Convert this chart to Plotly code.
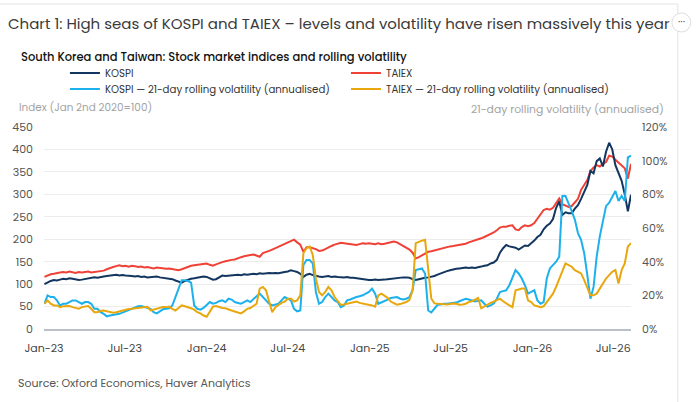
import pandas as pd
import plotly.graph_objects as go

dates = pd.date_range("2023-01-02", periods=189, freq="7D")

kospi = [
    100, 104, 107, 109, 108, 110, 112, 111, 113, 112,
    110, 109, 110, 111, 112, 114, 115, 114, 116, 117,
    118, 119, 120, 121, 119, 120, 119, 119, 118, 117,
    118, 116, 117, 115, 116, 116, 117, 115, 114, 114,
    113, 111, 108, 105, 103, 107, 110, 112, 113, 114,
    116, 117, 116, 113, 110, 111, 116, 119, 118, 119,
    120, 120, 121, 120, 122, 121, 122, 123, 122, 124,
    123, 124, 125, 124, 125, 124, 126, 127, 128, 131,
    129, 127, 123, 116, 121, 123, 120, 118, 117, 116,
    117, 118, 116, 117, 116, 115, 115, 116, 114, 114,
    113, 111, 110, 110, 109, 109, 110, 109, 109, 110,
    111, 112, 113, 113, 114, 115, 115, 114, 111, 109,
    111, 113, 114, 115, 116, 118, 121, 124, 127, 129,
    131, 133, 134, 135, 136, 137, 136, 137, 136, 137,
    139, 141, 142, 146, 148, 154, 170, 180, 187, 184,
    183, 181, 177, 182, 186, 185, 190, 197, 205, 210,
    222, 230, 235, 245, 270, 284, 254, 260, 258, 258,
    268, 276, 290, 305, 321, 352, 347, 374, 380, 362,
    395, 415, 400, 365, 348, 330, 300, 262, 299,
]

taiex = [
    116, 119, 122, 123, 125, 126, 127, 126, 128, 127,
    125, 127, 126, 127, 128, 126, 127, 128, 129, 130,
    133, 136, 138, 140, 142, 140, 141, 139, 141, 140,
    138, 139, 137, 138, 136, 135, 137, 136, 135, 134,
    135, 134, 133, 131, 133, 136, 139, 141, 142, 143,
    144, 145, 146, 143, 141, 144, 147, 149, 151, 153,
    154, 155, 158, 160, 162, 164, 165, 166, 163, 161,
    169, 171, 174, 177, 180, 183, 187, 189, 192, 196,
    199, 193, 188, 172, 182, 182, 180, 178, 174, 175,
    178, 182, 185, 188, 190, 192, 191, 190, 189, 188,
    187, 189, 191, 190, 191, 190, 189, 191, 189, 190,
    192, 193, 195, 193, 189, 185, 181, 177, 170, 157,
    160, 164, 169, 172, 173, 175, 176, 178, 180, 182,
    184, 185, 186, 187, 188, 190, 193, 195, 197, 200,
    202, 205, 208, 211, 215, 220, 226, 228, 228, 230,
    231, 222, 220, 227, 231, 229, 231, 236, 246, 255,
    265, 268, 266, 270, 282, 291, 278, 275, 272, 274,
    283, 290, 310, 322, 332, 352, 360, 365, 362, 368,
    372, 386, 384, 377, 371, 366, 358, 335, 368,
]

kospi_vol = [
    15, 20, 19, 19, 17, 14, 15, 15, 16, 17,
    17, 16, 15, 16, 16, 15, 12, 12, 10, 9,
    7.5, 8, 8.3, 8.5, 9, 9.7, 10.5, 11.3, 12, 12.8,
    13.5, 13.6, 13, 12.5, 12, 10, 9.3, 10.5, 11.7, 12,
    12.3, 14, 19, 23, 29, 29, 28.5, 27.5, 14, 12,
    11.5, 12.5, 14, 16, 15, 15.5, 16.5, 17, 16, 18,
    17.5, 16, 15.5, 15, 16, 17, 16, 18, 19.5, 21,
    19, 17, 15, 14, 14.5, 15, 17, 19, 18, 17,
    12, 10.5, 11, 38, 41, 41, 39, 22, 15, 16,
    19, 21, 19, 17, 16, 13, 14, 17, 17.5, 18.5,
    19, 19.5, 20, 21, 22, 24, 21, 15, 16, 17,
    17.5, 18.4, 18.5, 19, 18, 17.6, 18, 19, 23, 35,
    35.5, 36, 33, 11, 9.8, 12, 14.4, 14.5, 15, 15,
    15.2, 15.4, 15.7, 16.5, 17.3, 18, 17.5, 16.8, 16.3, 16.7,
    17, 15, 13.3, 14, 15.2, 18, 22, 22.5, 23, 26,
    31, 35, 33, 30, 26, 21, 22, 23, 17, 15,
    16, 30, 36, 38, 40, 43, 79, 79, 75, 70,
    65, 57, 53, 45, 32, 18, 25, 43, 55, 64,
    73, 75, 79, 82, 76, 79, 76, 102, 103,
]

taiex_vol = [
    15, 17, 15, 14, 14, 13, 13.5, 13.5, 13.6, 13,
    12.5, 12, 13, 13.5, 13.6, 12, 10, 10, 10.8, 11,
    10.5, 10, 9.7, 10, 10.5, 11, 11.3, 11.9, 12, 12.3,
    12.5, 13, 13.2, 13.2, 11, 11.5, 12.3, 12.8, 13, 13,
    13.3, 12, 11, 12.5, 14, 13.5, 13, 12.3, 11.5, 10,
    9.3, 8, 7.3, 10, 13.3, 13.7, 13, 12.5, 12.3, 11.5,
    11, 10.4, 10, 9.3, 10.5, 12, 12.5, 14, 15, 24,
    25, 23, 17, 10, 13, 14.5, 15.5, 16.3, 18, 18,
    16.3, 17, 20, 45, 48, 49, 44, 30, 22, 20,
    22, 25, 23, 19, 17, 14.4, 14.5, 15, 15.5, 16,
    16.3, 15.5, 15.2, 14.8, 14.4, 14, 13.3, 20, 21, 20,
    18.5, 16.3, 15.5, 14.4, 14.8, 15.2, 16, 17.3, 23, 51,
    52, 52.5, 53, 35, 18, 15.2, 15, 14.7, 14.4, 14.5,
    14.8, 15.2, 15, 14.4, 14.6, 15, 16, 16.5, 17.5, 18.4,
    12.3, 13.5, 14.4, 15.5, 16.3, 17, 18, 16.5, 15, 14,
    13, 23, 23.5, 24, 24, 17, 16, 14, 13.5, 13,
    13.5, 16, 18, 21, 25, 30, 35, 39, 38, 37,
    35, 34, 33, 29, 25, 20, 20, 21, 24, 27,
    30, 32, 34, 35, 27, 35, 39, 49, 51,
]

x_ticks = ["2023-01-01", "2023-07-01", "2024-01-01", "2024-07-01",
           "2025-01-01", "2025-07-01", "2026-01-01", "2026-07-01"]

# ---- style ----
NAVY = "#12365f"
RED = "#ef4136"
LBLUE = "#1cb1ec"
ORANGE = "#e8a70c"
FONT = "Poppins, 'Open Sans', sans-serif"

W, H = 696, 402
L, R, T, B = 42, 65, 127, 73
pw, ph = W - L - R, H - T - B


def px(x):
    return (x - L) / pw


def py(y):
    return (H - B - y) / ph


fig = go.Figure()
fig.add_trace(go.Scatter(x=dates, y=taiex, name="TAIEX", legendrank=2,
                         legend="legend", mode="lines",
                         line=dict(color=RED, width=2)))
fig.add_trace(go.Scatter(x=dates, y=kospi, name="KOSPI", legendrank=1,
                         legend="legend", mode="lines",
                         line=dict(color=NAVY, width=2)))
fig.add_trace(go.Scatter(x=dates, y=kospi_vol, yaxis="y2", legendrank=3,
                         legend="legend2",
                         name="KOSPI \u2014 21-day rolling volatility (annualised)",
                         mode="lines", line=dict(color=LBLUE, width=2)))
fig.add_trace(go.Scatter(x=dates, y=taiex_vol, yaxis="y2", legendrank=4,
                         legend="legend2",
                         name="TAIEX \u2014 21-day rolling volatility (annualised)",
                         mode="lines", line=dict(color=ORANGE, width=2)))

legend_style = dict(orientation="h", xanchor="left", yanchor="middle",
                    entrywidth=236, entrywidthmode="pixels",
                    font=dict(size=10.2, color="#333"),
                    bgcolor="rgba(0,0,0,0)", itemwidth=30)

fig.update_layout(
    width=W, height=H,
    margin=dict(l=L, r=R, t=T, b=B),
    paper_bgcolor="white", plot_bgcolor="white",
    font=dict(family=FONT, size=11, color="#444"),
    title=dict(text="Chart 1: High seas of KOSPI and TAIEX \u2013 levels and volatility have risen massively this year",
               x=8 / W, xanchor="left", xref="container",
               y=1 - 24 / H, yanchor="middle", yref="container",
               font=dict(size=15, color="#3a3a3a")),
    xaxis=dict(type="date", range=["2023-01-01", "2026-08-10"],
               tickvals=x_ticks, tickformat="%b-%y",
               showgrid=False, showline=True, linecolor="#b9c0c8", linewidth=1.5,
               ticks="", tickfont=dict(size=11, color="#444"),
               ticklabelstandoff=8),
    yaxis=dict(range=[0, 450], dtick=50, showgrid=True, gridcolor="#ececec",
               gridwidth=1, zeroline=False, ticks="",
               tickfont=dict(size=11, color="#555"), ticklabelstandoff=10),
    yaxis2=dict(range=[0, 120], dtick=20, overlaying="y", side="right",
                showgrid=False, zeroline=False, ticksuffix="%", ticks="",
                tickfont=dict(size=11, color="#555"), ticklabelstandoff=10),
    legend=dict(legend_style, x=px(63), y=py(73)),
    legend2=dict(legend_style, x=px(63), y=py(89)),
    showlegend=True,
)

fig.add_annotation(text="South Korea and Taiwan: Stock market indices and rolling volatility",
                   xref="paper", yref="paper", x=px(17), y=py(57),
                   xanchor="left", yanchor="middle", showarrow=False,
                   font=dict(size=11.5, color="#111", weight=500))
fig.add_annotation(text="Index (Jan 2nd 2020=100)",
                   xref="paper", yref="paper", x=px(15), y=py(108),
                   xanchor="left", yanchor="middle", showarrow=False,
                   font=dict(size=10.4, color="#a3a3a3"))
fig.add_annotation(text="21-day rolling volatility (annualised)",
                   xref="paper", yref="paper", x=px(666), y=py(110),
                   xanchor="right", yanchor="middle", showarrow=False,
                   font=dict(size=10.8, color="#a3a3a3"))
fig.add_annotation(text="Source: Oxford Economics, Haver Analytics",
                   xref="paper", yref="paper", x=px(14), y=py(383),
                   xanchor="left", yanchor="middle", showarrow=False,
                   font=dict(size=11, color="#555"))

# card frame and menu button
fig.add_shape(type="rect", xref="paper", yref="paper",
              x0=px(-20), x1=px(678), y0=py(430), y1=py(4),
              line=dict(color="#e3e3e3", width=1), fillcolor="rgba(0,0,0,0)",
              layer="below")
fig.add_shape(type="circle", xref="paper", yref="paper",
              x0=px(672), x1=px(691), y0=py(32), y1=py(13),
              line=dict(color="#dddddd", width=1), fillcolor="white")
fig.add_annotation(text="\u00b7\u00b7\u00b7", xref="paper", yref="paper",
                   x=px(681.5), y=py(21), showarrow=False,
                   xanchor="center", yanchor="middle",
                   font=dict(size=11, color="#444"))

fig.write_html("out.html", config={"displayModeBar": False},
               post_script="document.body.style.margin='0';")
